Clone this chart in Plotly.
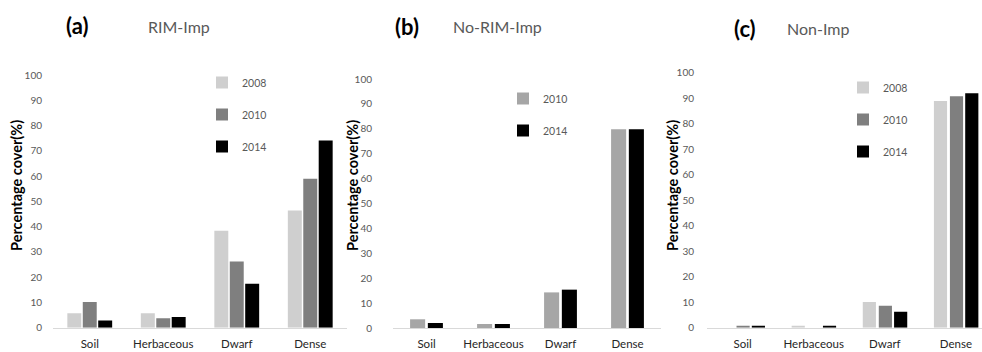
import plotly.graph_objects as go

# ---------------- data ----------------
categories = ["Soil", "Herbaceous", "Dwarf", "Dense"]

a_2008 = [5.7, 5.7, 38.4, 46.4]
a_2010 = [10.2, 3.7, 26.2, 58.9]
a_2014 = [2.8, 4.2, 17.4, 74.1]

b_2010 = [3.5, 1.6, 14.3, 79.8]
b_2014 = [2.0, 1.6, 15.4, 79.8]

c_2008 = [0.0, 0.7, 10.1, 88.9]
c_2010 = [0.8, 0.0, 8.6, 90.8]
c_2014 = [0.8, 0.8, 6.3, 91.9]

panel_letters = ["(a)", "(b)", "(c)"]
panel_titles = ["RIM-Imp", "No-RIM-Imp", "Non-Imp"]
y_ticks = list(range(0, 101, 10))
y_title = "Percentage cover(%)"

# ---------------- style ----------------
W, H = 982, 352
FONT = "Lato, 'Open Sans', sans-serif"
C2008 = "#cfcfcf"
C2010 = "#7f7f7f"
C2010_B = "#a6a6a6"
C2014 = "#000000"
GRAY_TXT = "#595959"


def px_x(v):
    return v / W


def px_y(v):
    return 1 - v / H


fig = go.Figure()

panels = [
    dict(xa="x", ya="y", legend="legend",
         series=[("2008", a_2008, C2008), ("2010", a_2010, C2010), ("2014", a_2014, C2014)],
         width=0.19, offsets=[-0.305, -0.095, 0.115]),
    dict(xa="x2", ya="y2", legend="legend2",
         series=[("2010", b_2010, C2010_B), ("2014", b_2014, C2014)],
         width=0.225, offsets=[-0.245, 0.02]),
    dict(xa="x3", ya="y3", legend="legend3",
         series=[("2008", c_2008, C2008), ("2010", c_2010, C2010), ("2014", c_2014, C2014)],
         width=0.185, offsets=[-0.31, -0.085, 0.13]),
]

for p in panels:
    for (name, vals, col), off in zip(p["series"], p["offsets"]):
        fig.add_trace(go.Bar(
            x=categories, y=vals, name=name,
            marker=dict(color=col, line=dict(width=0)),
            width=p["width"], offset=off,
            xaxis=p["xa"], yaxis=p["ya"], legend=p["legend"],
            legendgroup=p["legend"] + name,
            hoverinfo="x+y+name",
        ))

x_domains = [[px_x(53), px_x(347)], [px_x(393), px_x(661)], [px_x(707), 1.0]]
y_domains = [[px_y(327.7), px_y(75)], [px_y(328), px_y(79)], [px_y(327.7), px_y(72.7)]]
x_ranges = [[-0.5, 3.5], [-0.5, 3.5], [-0.5, 3.366]]
standoffs = [10, 20, 12]

layout = dict(
    width=W, height=H,
    margin=dict(l=0, r=0, t=0, b=0, autoexpand=False),
    paper_bgcolor="white", plot_bgcolor="white",
    font=dict(family=FONT, color=GRAY_TXT),
    barmode="group",
    showlegend=True,
)

for i in range(3):
    sfx = "" if i == 0 else str(i + 1)
    layout["xaxis" + sfx] = dict(
        domain=x_domains[i], range=x_ranges[i], anchor="y" + sfx,
        showline=True, linecolor="#d9d9d9", linewidth=1,
        ticks="", showgrid=False, zeroline=False, automargin=False,
        tickfont=dict(size=11.5, color="#262626", family=FONT),
        ticklabelstandoff=5, fixedrange=True,
    )
    layout["yaxis" + sfx] = dict(
        domain=y_domains[i], range=[0, 100], anchor="x" + sfx,
        tickvals=y_ticks, showline=False, showgrid=False, zeroline=False,
        ticks="", automargin=False,
        tickfont=dict(size=10, color=GRAY_TXT, family=FONT),
        ticklabelstandoff=standoffs[i], fixedrange=True,
    )

legend_pos = [(202, 68), (503, 84), (843, 73)]
for i, (lx, ly) in enumerate(legend_pos):
    key = "legend" if i == 0 else "legend" + str(i + 1)
    layout[key] = dict(
        x=px_x(lx), y=px_y(ly), xanchor="left", yanchor="top",
        bgcolor="rgba(0,0,0,0)", borderwidth=0,
        font=dict(size=10.5, color=GRAY_TXT, family=FONT),
        tracegroupgap=13, itemwidth=30,
    )

fig.update_layout(**layout)

annotations = []
letter_pos = [(77, 25), (407, 27), (745, 28)]
title_pos = [(179, 27), (497, 27), (818, 28)]
ytitle_x = [16, 352, 672]
for i in range(3):
    annotations.append(dict(
        text="<b>%s</b>" % panel_letters[i], xref="paper", yref="paper",
        x=px_x(letter_pos[i][0]), y=px_y(letter_pos[i][1]),
        xanchor="center", yanchor="middle", showarrow=False,
        font=dict(size=22, color="#000000", family=FONT),
    ))
    annotations.append(dict(
        text=panel_titles[i], xref="paper", yref="paper",
        x=px_x(title_pos[i][0]), y=px_y(title_pos[i][1]),
        xanchor="center", yanchor="middle", showarrow=False,
        font=dict(size=16, color=GRAY_TXT, family=FONT),
    ))
    annotations.append(dict(
        text="<b>%s</b>" % y_title, xref="paper", yref="paper",
        x=px_x(ytitle_x[i]), y=px_y(186),
        xanchor="center", yanchor="middle", textangle=-90, showarrow=False,
        font=dict(size=14.5, color="#000000", family=FONT),
    ))
fig.update_layout(annotations=annotations)

fig.write_html(
    "out.html",
    config={"displayModeBar": False},
    post_script="document.body.style.margin='0';document.body.style.overflow='hidden';",
)
